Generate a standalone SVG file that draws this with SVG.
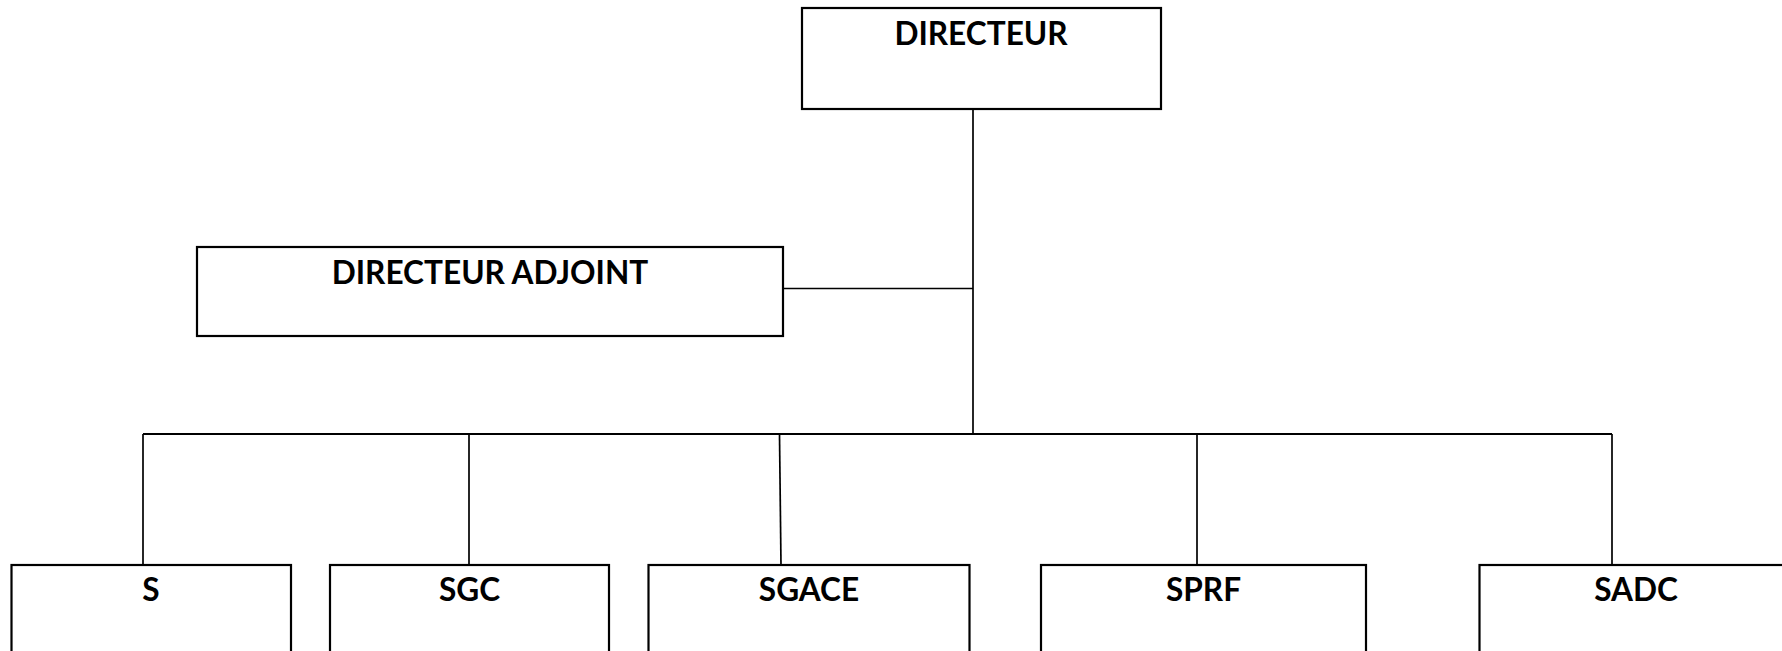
<svg xmlns="http://www.w3.org/2000/svg" width="1782" height="651" viewBox="0 0 1782 651">
<style>
.box{fill:#fff;stroke:#000;stroke-width:2.2}
.lbl{font-family:Lato,"Liberation Sans",sans-serif;font-weight:bold;font-size:31.6px;fill:#000;text-anchor:middle}
.con{fill:none;stroke:#000;stroke-width:1.7}
</style>
<rect width="1782" height="651" fill="#fff"/>
<g id="connectors">
<path class="con" d="M973 109V434"/>
<path class="con" d="M783 288.5H973"/>
<path class="con" d="M143 434H1612" style="stroke-width:2.2"/>
<path class="con" d="M143 434V565"/>
<path class="con" d="M469 434V565"/>
<path class="con" d="M779.5 434L781 565"/>
<path class="con" d="M1197 434V565"/>
<path class="con" d="M1612 434V565"/>
</g>
<g id="directeur">
<rect class="box" x="802" y="8" width="359" height="101"/>
<text class="lbl" x="981" y="44.5">DIRECTEUR</text>
</g>
<g id="directeur-adjoint">
<rect class="box" x="197" y="247" width="586" height="89"/>
<text class="lbl" x="490" y="283.5">DIRECTEUR ADJOINT</text>
</g>
<g id="s">
<rect class="box" x="11.5" y="565" width="279.5" height="120"/>
<text class="lbl" x="151" y="601">S</text>
</g>
<g id="sgc">
<rect class="box" x="330" y="565" width="279" height="120"/>
<text class="lbl" x="469.5" y="601">SGC</text>
</g>
<g id="sgace">
<rect class="box" x="648.5" y="565" width="321" height="120"/>
<text class="lbl" x="809" y="601">SGACE</text>
</g>
<g id="sprf">
<rect class="box" x="1041" y="565" width="325" height="120"/>
<text class="lbl" x="1203.5" y="601">SPRF</text>
</g>
<g id="sadc">
<rect class="box" x="1479.5" y="565" width="340" height="120"/>
<text class="lbl" x="1636" y="601">SADC</text>
</g>
</svg>
